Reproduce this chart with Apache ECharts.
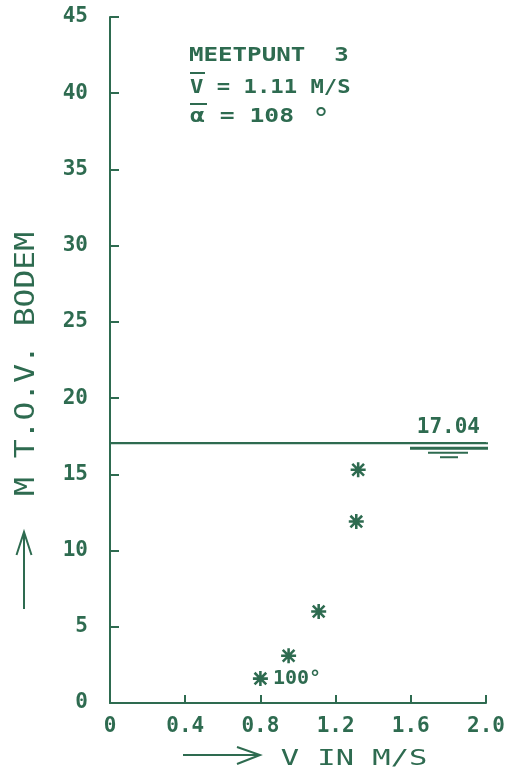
<!DOCTYPE html>
<html>
<head>
<meta charset="utf-8">
<script src="https://cdn.jsdelivr.net/npm/echarts@6/dist/echarts.min.js"></script>
<style>
  html, body { margin: 0; padding: 0; background: #ffffff; }
  #chart { width: 513px; height: 775px; }
</style>
</head>
<body>
<div id="chart"></div>
<script>
// Measured flow velocity (m/s) against height above the bed (m), station 3
const velocity = [0.80, 0.95, 1.11, 1.31, 1.32];
const height = [1.6, 3.1, 6.0, 11.9, 15.3];
const pointNotes = ['100°', '', '', '', ''];
const waterLevel = 17.04;
const xTickLabels = ['0', '0.4', '0.8', '1.2', '1.6', '2.0'];
const yTickLabels = ['0', '5', '10', '15', '20', '25', '30', '35', '40', '45'];
const headerLines = ['MEETPUNT  3', 'V = 1.11 M/S', 'α = 108', '°'];
const yTitle = 'M T.O.V. BODEM';
const xTitle = 'V IN M/S';

const INK = '#2e6b50';
const MONO = '"DejaVu Sans Mono", "Liberation Mono", monospace';
const WEIGHT = 'bold';

const chart = echarts.init(document.getElementById('chart'), null, { renderer: 'canvas' });

// asterisk marker built from four bars of equal winding
const asterisk = 'path://M8.3 0H11.7V20H8.3Z M0 8.3H20V11.7H0Z M1 3.4L3.4 1L19 16.6L16.6 19Z M16.6 1L19 3.4L3.4 19L1 16.6Z';

const points = velocity.map((v, i) => {
  const item = { value: [v, height[i]] };
  if (pointNotes[i]) {
    item.label = {
      show: true,
      position: 'right',
      distance: 5,
      formatter: pointNotes[i],
      color: INK,
      opacity: 1,
      fontFamily: MONO,
      fontSize: 20,
      fontWeight: WEIGHT
    };
  }
  return item;
});

function txt(text, x, y, size, scaleX, align, weight, extra) {
  return Object.assign({
    type: 'text',
    x: x,
    y: y,
    scaleX: scaleX,
    silent: true,
    style: {
      text: text,
      fill: INK,
      font: weight + ' ' + size + 'px ' + MONO,
      fontSize: size,
      fontWeight: weight,
      fontFamily: MONO,
      align: align,
      textAlign: align,
      verticalAlign: 'middle',
      textVerticalAlign: 'middle'
    }
  }, extra || {});
}

function seg(points, width) {
  return {
    type: 'polyline',
    silent: true,
    shape: { points: points },
    style: { stroke: INK, lineWidth: width || 2, fill: null }
  };
}

const option = {
  animation: false,
  backgroundColor: '#ffffff',
  grid: { left: 110, right: 27, top: 17, bottom: 72 },
  xAxis: {
    type: 'value',
    min: 0,
    max: 2.0,
    interval: 0.4,
    axisLine: { show: true, onZero: false, lineStyle: { color: INK, width: 2 } },
    axisTick: { show: true, inside: true, length: 8, lineStyle: { color: INK, width: 2 } },
    splitLine: { show: false },
    axisLabel: {
      margin: 13,
      color: INK,
      fontFamily: MONO,
      fontSize: 21,
      fontWeight: WEIGHT,
      formatter: (v) => xTickLabels[Math.round(v / 0.4)]
    }
  },
  yAxis: {
    type: 'value',
    min: 0,
    max: 45,
    interval: 5,
    axisLine: { show: true, onZero: false, lineStyle: { color: INK, width: 2 } },
    axisTick: { show: true, inside: true, length: 9, lineStyle: { color: INK, width: 2 } },
    splitLine: { show: false },
    axisLabel: {
      margin: 22,
      color: INK,
      fontFamily: MONO,
      fontSize: 21,
      fontWeight: WEIGHT,
      formatter: (v) => yTickLabels[Math.round(v / 5)]
    }
  },
  series: [{
    type: 'scatter',
    data: points,
    symbol: asterisk,
    symbolSize: 15,
    itemStyle: { color: INK, opacity: 1 },
    markLine: {
      silent: true,
      symbol: ['none', 'none'],
      lineStyle: { color: INK, width: 2, type: 'solid', opacity: 1 },
      label: {
        show: true,
        position: 'insideEndTop',
        distance: [6, 5],
        formatter: () => waterLevel.toFixed(2),
        color: INK,
        fontFamily: MONO,
        fontSize: 21,
        fontWeight: WEIGHT
      },
      data: [{ yAxis: waterLevel }]
    }
  }]
};

chart.setOption(option);

// water-level sign under the label, tied to the level line's right end
const end = chart.convertToPixel({ gridIndex: 0 }, [2.0, waterLevel]);
const ex = end[0], ey = end[1];

chart.setOption({
  graphic: [
    // water-level sign
    seg([[ex - 76, ey + 5], [ex + 2, ey + 5]], 3),
    seg([[ex - 58, ey + 9.5], [ex - 18, ey + 9.5]], 2),
    seg([[ex - 46, ey + 14], [ex - 28, ey + 14]], 2),
    seg([[110, ey], [ex + 2, ey]], 2),

    // header block
    txt(headerLines[0], 189, 56, 19, 1.27, 'left', WEIGHT),
    txt(headerLines[1], 190, 88, 19, 1.17, 'left', WEIGHT),
    seg([[190, 73], [205, 73]], 2),
    txt(headerLines[2], 190, 117, 19, 1.3, 'left', WEIGHT),
    txt(headerLines[3], 312, 121, 30, 1.0, 'left', 'normal'),
    seg([[190, 104], [207, 104]], 2),

    // vertical axis title with arrow
    txt(yTitle, 27, 364, 27, 1.16, 'center', 'normal', { rotation: Math.PI / 2 }),
    seg([[24, 609], [24, 533]], 2),
    seg([[16.5, 555], [24, 532], [31.5, 555]], 2),

    // horizontal axis title with arrow
    txt(xTitle, 354, 760, 21, 1.45, 'center', 'normal'),
    seg([[183, 755], [259, 755]], 2),
    seg([[237, 747], [260, 755], [237, 764]], 2)
  ]
});
</script>
</body>
</html>
